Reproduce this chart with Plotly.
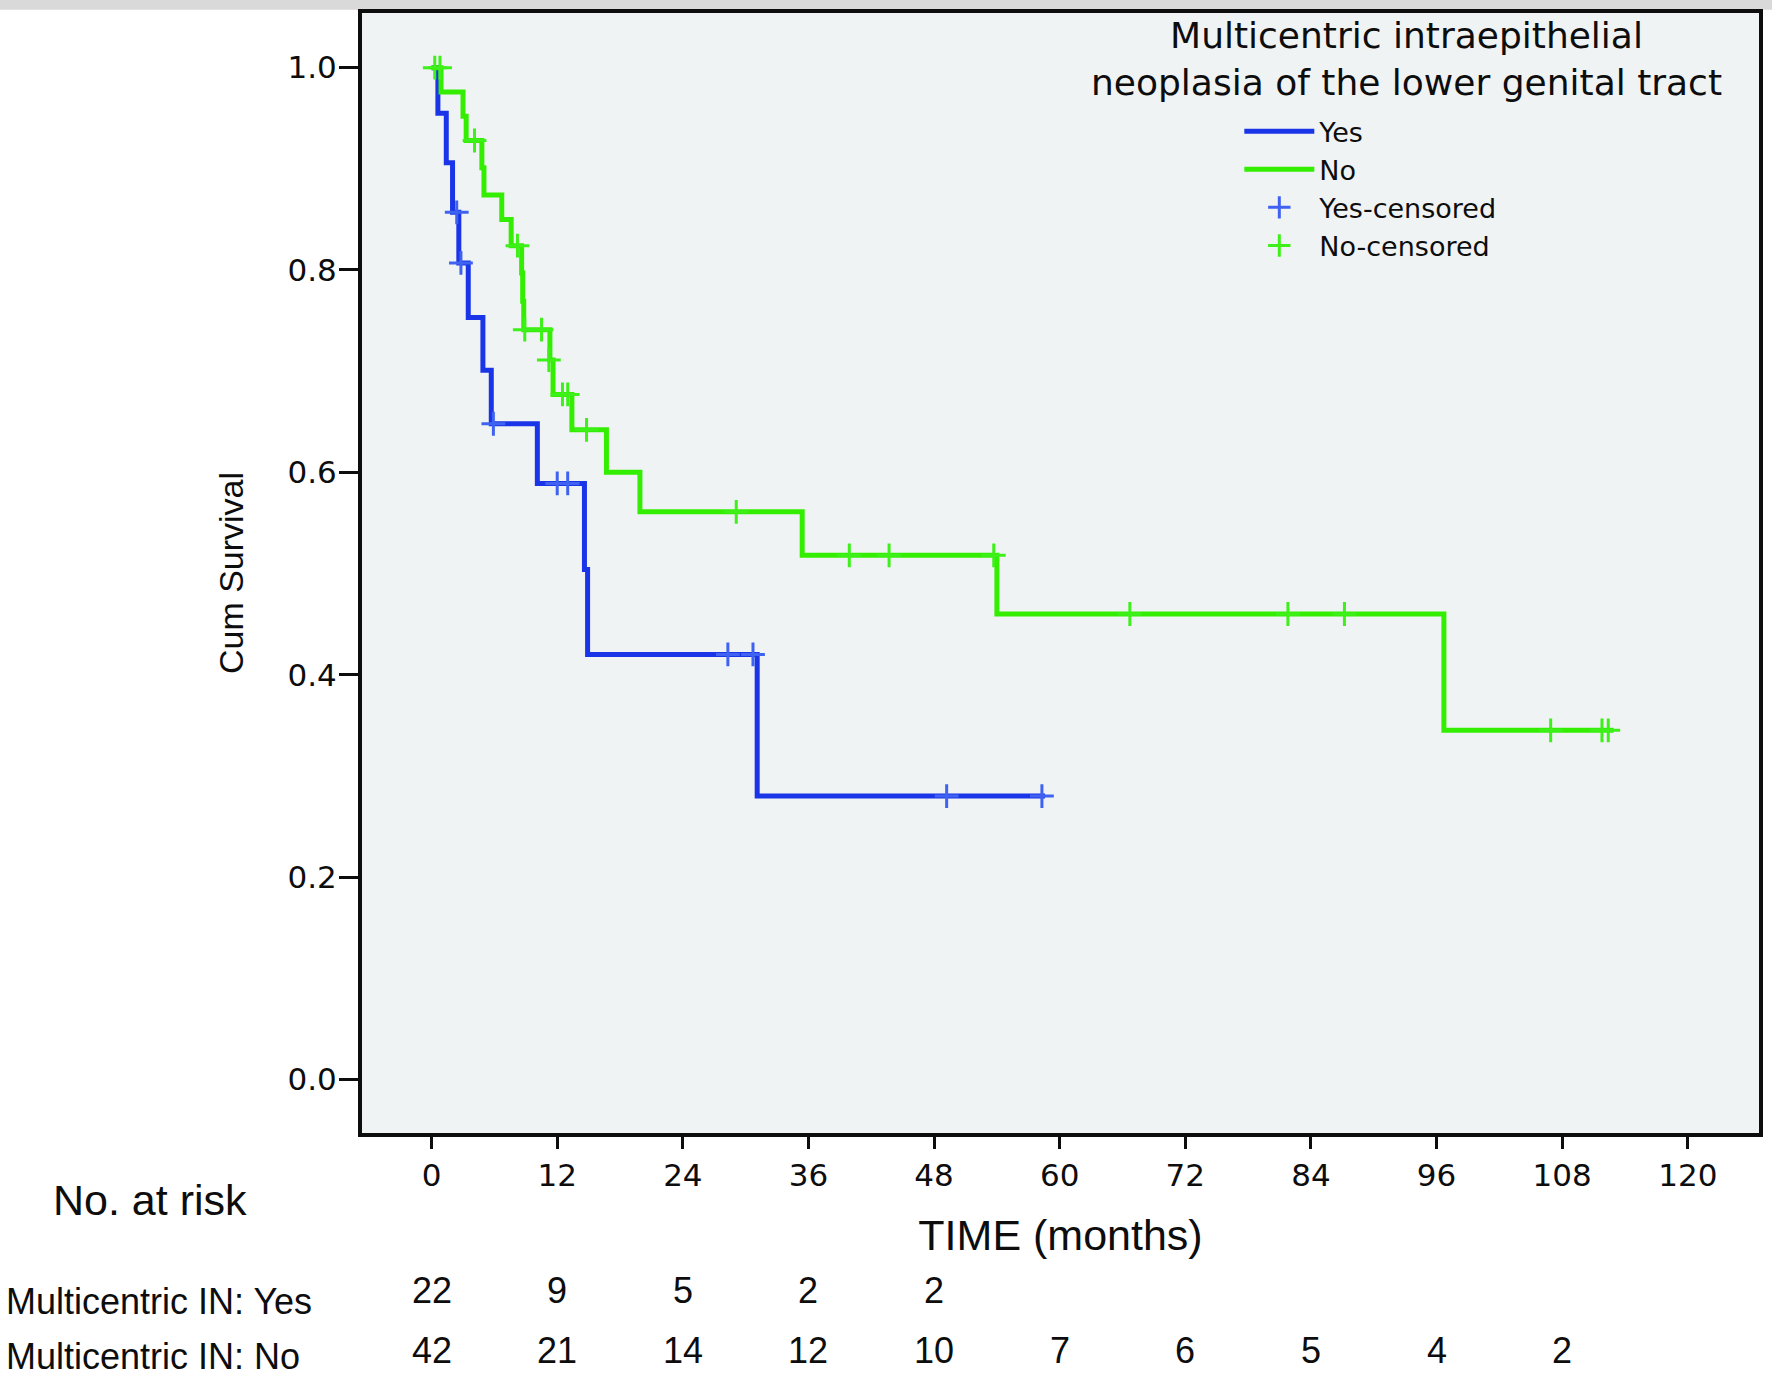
import plotly.graph_objects as go

# ---------------- data ----------------
# Kaplan-Meier step points: time (months) of each drop and survival after it
yes_step_t = [0, 0.6, 1.4, 2.0, 2.6, 3.5, 4.9, 5.7, 10.1, 14.6, 14.9, 31.1]
yes_step_s = [1.0, 0.955, 0.906, 0.857, 0.807, 0.753, 0.701, 0.648, 0.589, 0.504, 0.420, 0.280]
yes_last_t = 58.6

no_step_t = [0, 0.9, 3.0, 3.3, 4.8, 5.0, 6.7, 7.6, 8.6, 8.7, 8.8, 11.3, 11.6, 13.4, 16.7, 19.9, 35.4, 54.0, 96.7]
no_step_s = [1.0, 0.976, 0.952, 0.928, 0.901, 0.874, 0.850, 0.824, 0.797, 0.769, 0.741, 0.711, 0.677, 0.642,
             0.600, 0.561, 0.518, 0.460, 0.345]
no_last_t = 112.9

# censored observations
yes_cens_t = [2.4, 2.8, 5.9, 12.0, 13.0, 28.3, 30.7, 49.2, 58.3]
yes_cens_s = [0.857, 0.807, 0.648, 0.589, 0.589, 0.420, 0.420, 0.280, 0.280]

no_cens_t = [0.3, 0.8, 4.1, 8.2, 8.9, 10.5, 11.2, 12.5, 13.0, 14.8, 29.1, 39.9, 43.7, 53.7,
             66.7, 81.8, 87.2, 106.9, 111.8, 112.4]
no_cens_s = [1.0, 1.0, 0.928, 0.824, 0.741, 0.741, 0.711, 0.677, 0.677, 0.642, 0.561, 0.518, 0.518, 0.518,
             0.460, 0.460, 0.460, 0.345, 0.345, 0.345]

# number at risk table
risk_times = [0, 12, 24, 36, 48, 60, 72, 84, 96, 108]
yes_at_risk = [22, 9, 5, 2, 2]
no_at_risk = [42, 21, 14, 12, 10, 7, 6, 5, 4, 2]

x_ticks = [0, 12, 24, 36, 48, 60, 72, 84, 96, 108, 120]
y_ticks = [0.0, 0.2, 0.4, 0.6, 0.8, 1.0]

legend_title = "Multicentric intraepithelial<br>neoplasia of the lower genital tract"

# ---------------- styling ----------------
BLUE = "#1a35e8"
GREEN = "#33ee00"
BLUE_C = "#3f63f0"
GREEN_C = "#3ef01a"
INK = "#0d0d0d"
SANS = "Liberation Sans, Arial, sans-serif"
WIDE = "DejaVu Sans, Verdana, sans-serif"

fig = go.Figure()

fig.add_trace(go.Scatter(
    x=yes_step_t + [yes_last_t], y=yes_step_s + [yes_step_s[-1]],
    mode="lines", line=dict(color=BLUE, width=5, shape="hv"), name="Yes"))
fig.add_trace(go.Scatter(
    x=no_step_t + [no_last_t], y=no_step_s + [no_step_s[-1]],
    mode="lines", line=dict(color=GREEN, width=5, shape="hv"), name="No"))
fig.add_trace(go.Scatter(
    x=yes_cens_t, y=yes_cens_s, mode="markers", name="Yes-censored",
    marker=dict(symbol="cross-thin", size=17, line=dict(color=BLUE_C, width=3))))
fig.add_trace(go.Scatter(
    x=no_cens_t, y=no_cens_s, mode="markers", name="No-censored",
    marker=dict(symbol="cross-thin", size=17, line=dict(color=GREEN_C, width=3))))

# legend title (two lines, one text block)
fig.add_annotation(text=legend_title, xref="paper", yref="paper",
                   x=0.7475, y=0.959, xanchor="center", yanchor="middle", showarrow=False,
                   align="center", font=dict(family=WIDE, size=36, color=INK))

# number at risk table
fig.add_annotation(text="No. at risk", xref="paper", yref="paper", x=-0.2225, y=-0.0596,
                   xanchor="left", yanchor="middle", showarrow=False,
                   font=dict(family=SANS, size=43, color=INK))
fig.add_annotation(text="Multicentric IN: Yes", xref="paper", yref="paper", x=-0.256, y=-0.150,
                   xanchor="left", yanchor="middle", showarrow=False,
                   font=dict(family=SANS, size=36, color=INK))
fig.add_annotation(text="Multicentric IN: No", xref="paper", yref="paper", x=-0.256, y=-0.1993,
                   xanchor="left", yanchor="middle", showarrow=False,
                   font=dict(family=SANS, size=36, color=INK))
for t, n in zip(risk_times, yes_at_risk):
    fig.add_annotation(text=str(n), xref="x", yref="paper", x=t, y=-0.1406,
                       xanchor="center", yanchor="middle", showarrow=False,
                       font=dict(family=SANS, size=36, color=INK))
for t, n in zip(risk_times, no_at_risk):
    fig.add_annotation(text=str(n), xref="x", yref="paper", x=t, y=-0.194,
                       xanchor="center", yanchor="middle", showarrow=False,
                       font=dict(family=SANS, size=36, color=INK))

# thin grey band at the very top of the image
fig.add_shape(type="rect", xref="paper", yref="paper", x0=-0.3, x1=1.02, y0=1.0028, y1=1.02,
              fillcolor="#d9d9d9", line=dict(width=0), layer="below")

fig.update_layout(
    width=1772, height=1377,
    margin=dict(l=362, r=12, t=9, b=244),
    paper_bgcolor="white", plot_bgcolor="#f0f3f4",
    showlegend=True,
    legend=dict(x=0.628, y=0.9160, xanchor="left", yanchor="top",
                bgcolor="rgba(0,0,0,0)", itemwidth=70,
                font=dict(family=WIDE, size=27, color=INK),
                tracegroupgap=0),
    xaxis=dict(range=[-6.65, 126.8], tickvals=x_ticks, ticktext=[str(v) for v in x_ticks],
               showgrid=False, zeroline=False, showline=True, linecolor=INK, linewidth=4,
               mirror=True, ticks="outside", ticklen=12, tickwidth=3, tickcolor=INK,
               tickfont=dict(family=WIDE, size=31, color=INK),
               title=dict(text="TIME (months)", standoff=29,
                          font=dict(family=SANS, size=43, color=INK))),
    yaxis=dict(range=[-0.053, 1.054], tickvals=y_ticks, ticktext=["%.1f" % v for v in y_ticks],
               showgrid=False, zeroline=False, showline=True, linecolor=INK, linewidth=4,
               mirror=True, ticks="outside", ticklen=19, tickwidth=3, tickcolor=INK,
               ticklabelstandoff=-4,
               tickfont=dict(family=WIDE, size=31, color=INK),
               title=dict(text="Cum Survival", standoff=35,
                          font=dict(family=SANS, size=34, color=INK))),
)

fig.write_html("out.html", config={"displayModeBar": False},
               post_script="document.body.style.margin='0';")
